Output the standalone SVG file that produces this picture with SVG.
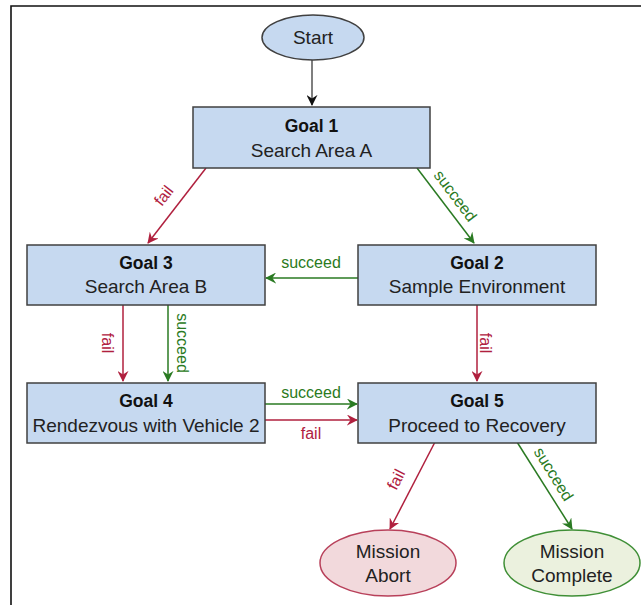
<svg xmlns="http://www.w3.org/2000/svg" width="641" height="605" viewBox="0 0 641 605">
<style>
text{font-family:"Liberation Sans",Arial,sans-serif;text-anchor:middle}
.box{fill:#c6d9f0;stroke:#404040;stroke-width:1.5}
.t{font-size:17.5px;font-weight:bold;fill:#111}
.s{font-size:19px;fill:#222}
.lbl{font-size:16px}
.fail{stroke:#b0203e;stroke-width:1.5;fill:none}
.succ{stroke:#2a7a22;stroke-width:1.5;fill:none}
.ft{fill:#b0203e}
.st{fill:#2a7a22}
</style>
<defs>
<marker id="ab" viewBox="0 0 12 12" refX="11" refY="6" markerWidth="11" markerHeight="11" orient="auto" markerUnits="userSpaceOnUse"><path d="M0,0 L12,6 L0,12 L4,6 Z" fill="#111"/></marker>
<marker id="ar" viewBox="0 0 12 12" refX="11" refY="6" markerWidth="11" markerHeight="11" orient="auto" markerUnits="userSpaceOnUse"><path d="M0,0 L12,6 L0,12 L4,6 Z" fill="#b0203e"/></marker>
<marker id="ag" viewBox="0 0 12 12" refX="11" refY="6" markerWidth="11" markerHeight="11" orient="auto" markerUnits="userSpaceOnUse"><path d="M0,0 L12,6 L0,12 L4,6 Z" fill="#2a7a22"/></marker>
</defs>
<rect width="641" height="605" fill="#fff"/>
<path d="M11,605 V6 H641" fill="none" stroke="#111" stroke-width="1.6"/>

<g id="connectors">
<line x1="312" y1="60" x2="312" y2="105" stroke="#555" stroke-width="1.5" marker-end="url(#ab)"/>
<line class="fail" x1="206" y1="168" x2="148" y2="243" marker-end="url(#ar)"/>
<text class="lbl ft" transform="translate(168,199) rotate(-52)">fail</text>
<line class="succ" x1="417" y1="168" x2="474" y2="243" marker-end="url(#ag)"/>
<text class="lbl st" transform="translate(451,199) rotate(53)">succeed</text>
<line class="succ" x1="358" y1="278" x2="266" y2="278" marker-end="url(#ag)"/>
<text class="lbl st" x="311" y="268">succeed</text>
<line class="fail" x1="123" y1="305" x2="123" y2="381" marker-end="url(#ar)"/>
<text class="lbl ft" transform="translate(102,343) rotate(90)">fail</text>
<line class="succ" x1="168" y1="305" x2="168" y2="381" marker-end="url(#ag)"/>
<text class="lbl st" transform="translate(177,343) rotate(90)">succeed</text>
<line class="fail" x1="477" y1="305" x2="477" y2="381" marker-end="url(#ar)"/>
<text class="lbl ft" transform="translate(480,343) rotate(90)">fail</text>
<line class="succ" x1="265" y1="404" x2="357" y2="404" marker-end="url(#ag)"/>
<text class="lbl st" x="311" y="398">succeed</text>
<line class="fail" x1="265" y1="420" x2="357" y2="420" marker-end="url(#ar)"/>
<text class="lbl ft" x="311" y="439">fail</text>
<line class="fail" x1="435" y1="442" x2="390" y2="529" marker-end="url(#ar)"/>
<text class="lbl ft" transform="translate(401,482) rotate(-63)">fail</text>
<line class="succ" x1="517" y1="442" x2="572" y2="529" marker-end="url(#ag)"/>
<text class="lbl st" transform="translate(549,477) rotate(58)">succeed</text>
</g>

<g id="start">
<ellipse cx="313" cy="37.5" rx="51" ry="22.5" class="box"/>
<text class="s" x="313" y="44">Start</text>
</g>
<g id="goal1">
<rect x="193" y="107" width="237" height="61" class="box"/>
<text class="t" x="311.5" y="132">Goal 1</text>
<text class="s" x="311.5" y="157">Search Area A</text>
</g>
<g id="goal3">
<rect x="27" y="245" width="238" height="60" class="box"/>
<text class="t" x="146" y="269">Goal 3</text>
<text class="s" x="146" y="293">Search Area B</text>
</g>
<g id="goal2">
<rect x="358" y="245" width="238" height="60" class="box"/>
<text class="t" x="477" y="269">Goal 2</text>
<text class="s" x="477" y="293">Sample Environment</text>
</g>
<g id="goal4">
<rect x="27" y="383" width="238" height="60" class="box"/>
<text class="t" x="146" y="407">Goal 4</text>
<text class="s" x="146" y="432">Rendezvous with Vehicle 2</text>
</g>
<g id="goal5">
<rect x="358" y="383" width="238" height="60" class="box"/>
<text class="t" x="477" y="407">Goal 5</text>
<text class="s" x="477" y="432">Proceed to Recovery</text>
</g>
<g id="abort">
<ellipse cx="388" cy="563" rx="68" ry="33" fill="#f2d9dc" stroke="#b8405a" stroke-width="1.5"/>
<text class="s" x="388" y="558" fill="#a0203e">Mission</text>
<text class="s" x="388" y="582" fill="#a0203e">Abort</text>
</g>
<g id="complete">
<ellipse cx="572" cy="563" rx="68" ry="33" fill="#ebf1de" stroke="#3f8f36" stroke-width="1.5"/>
<text class="s" x="572" y="558" fill="#2a6a1a">Mission</text>
<text class="s" x="572" y="582" fill="#2a6a1a">Complete</text>
</g>
</svg>
